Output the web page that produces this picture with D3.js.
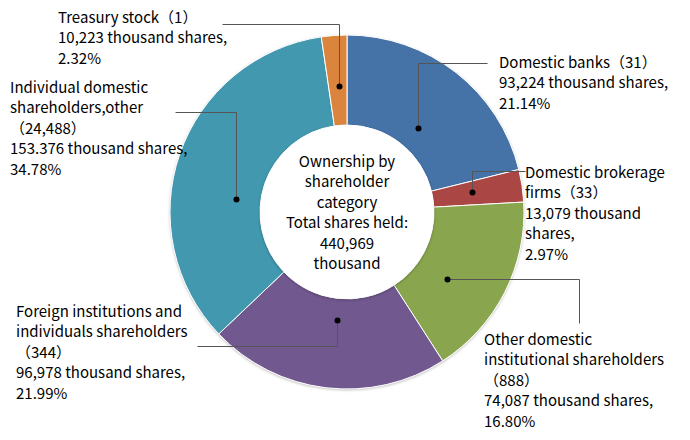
<!DOCTYPE html>
<html>
<head>
<meta charset="utf-8">
<script src="https://cdn.jsdelivr.net/npm/d3@7"></script>
<style>
  html, body { margin: 0; padding: 0; background: #fff; }
  svg { display: block; }
  text { font-family: "Noto Sans CJK JP", "Noto Sans", sans-serif; font-size: 15px; fill: #000; }
</style>
</head>
<body>
<svg id="chart" width="690" height="440"></svg>
<script>
// ---- data ----
const categories = ["Domestic banks", "Domestic brokerage firms", "Other domestic institutional shareholders",
  "Foreign institutions and individuals shareholders", "Individual domestic shareholders,other", "Treasury stock"];
const holders = ["31", "33", "888", "344", "24,488", "1"];
const shares = [93224, 13079, 74087, 96978, 153376, 10223];          // thousand shares
const shareLabels = ["93,224", "13,079", "74,087", "96,978", "153.376", "10,223"];
const percents = ["21.14%", "2.97%", "16.80%", "21.99%", "34.78%", "2.32%"];
const colors = ["#4572A7", "#AA4643", "#89A54E", "#71588F", "#4198AF", "#DB843D"];
const centerTitle = ["Ownership by", "shareholder", "category", "Total shares held:", "440,969", "thousand"];

// label lines per category
const labelLines = [
  ["Domestic banks（31）", "93,224 thousand shares,", "21.14%"],
  ["Domestic brokerage", "firms（33）", "13,079 thousand", "shares,", "2.97%"],
  ["Other domestic", "institutional shareholders", "（888）", "74,087 thousand shares,", "16.80%"],
  ["Foreign institutions and", "individuals shareholders", "（344）", "96,978 thousand shares,", "21.99%"],
  ["Individual domestic", "shareholders,other", "（24,488）", "153.376 thousand shares,", "34.78%"],
  ["Treasury stock（1）", "10,223 thousand shares,", "2.32%"]
];

// ---- layout (positions/styles) ----
const cx = 347, cy = 212, R = 177, r = 87;
const lineH = 20.4;
const layout = [
  { frac: 0.53, rad: 110, mode: "v", ey: 63,  ex: 487, tx: 499, ty: 68 },
  { frac: 0.47, rad: 127, mode: "v", ey: 171, ex: 525, tx: 525, ty: 178 },
  { frac: 0.61, rad: 120, mode: "h", ey: 323, ex: 579, tx: 484, ty: 345 },
  { frac: 0.48, rad: 108, mode: "v", ey: 346, ex: 197, tx: 16,  ty: 317 },
  { frac: 0.40, rad: 112, mode: "v", ey: 112, ex: 175, tx: 10,  ty: 93 },
  { frac: 0.55, rad: 126, mode: "v", ey: 24,  ex: 222, tx: 58,  ty: 23 }
];

const svg = d3.select("#chart");
const defs = svg.append("defs");
const sh = defs.append("filter").attr("id", "shadow").attr("x", "-20%").attr("y", "-20%").attr("width", "140%").attr("height", "140%");
sh.append("feDropShadow").attr("dx", 0).attr("dy", 1).attr("stdDeviation", 1.5).attr("flood-color", "#000").attr("flood-opacity", 0.3);

const g = svg.append("g").attr("transform", `translate(${cx},${cy})`);

const pie = d3.pie().sort(null).value(d => d);
const arcs = pie(shares);
const arc = d3.arc().innerRadius(r).outerRadius(R);

g.append("circle").attr("r", R).attr("fill", "#fff").attr("filter", "url(#shadow)");

g.selectAll("path.slice").data(arcs).enter().append("path")
  .attr("class", "slice")
  .attr("d", arc)
  .attr("fill", (d, i) => colors[i])
  .attr("stroke", "#fff").attr("stroke-width", 1);

g.append("circle").attr("r", r).attr("fill", "#fff").attr("filter", "url(#shadow)");
g.append("circle").attr("r", r - 0.5).attr("fill", "#fff");

const ct = g.append("text").attr("text-anchor", "middle");
centerTitle.forEach((t, i) => {
  ct.append("tspan").attr("x", 0).attr("y", -45 + i * lineH).text(t);
});

arcs.forEach((a, i) => {
  const L = layout[i];
  const ang = a.startAngle + L.frac * (a.endAngle - a.startAngle);
  const dx = cx + L.rad * Math.sin(ang);
  const dy = cy - L.rad * Math.cos(ang);
  let pts;
  if (L.mode === "v") pts = [[dx, dy], [dx, L.ey], [L.ex, L.ey]];
  else pts = [[dx, dy], [L.ex, dy], [L.ex, L.ey]];
  const px = v => Math.round(v) + 0.5;
  svg.append("path")
    .attr("d", d3.line()(pts.map(p => [px(p[0]), px(p[1])])))
    .attr("fill", "none").attr("stroke", "#555").attr("stroke-width", 1);
  svg.append("circle").attr("cx", px(dx)).attr("cy", px(dy)).attr("r", 3).attr("fill", "#000");

  const t = svg.append("text");
  labelLines[i].forEach((s, j) => {
    t.append("tspan").attr("x", L.tx).attr("y", L.ty + j * lineH).text(s);
  });
});
</script>
</body>
</html>
